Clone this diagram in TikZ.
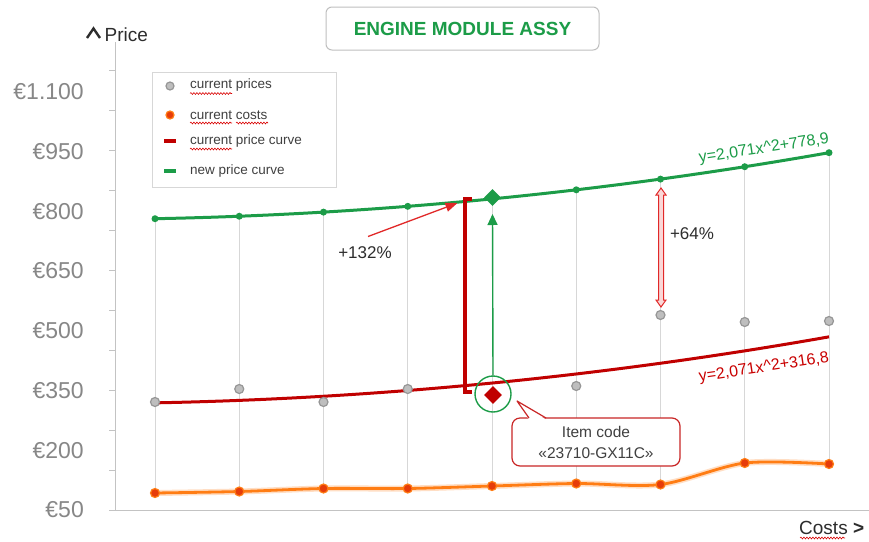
\documentclass[tikz,border=0pt]{standalone}
\usepackage{fontspec}
\setmainfont{Liberation Sans}
\usetikzlibrary{arrows.meta,decorations.pathmorphing,shapes.geometric}
\definecolor{cgreen}{RGB}{28,156,72}
\definecolor{cred}{RGB}{192,0,0}
\definecolor{carrowred}{RGB}{225,40,40}
\definecolor{corange}{RGB}{255,125,20}
\definecolor{ccostfill}{RGB}{230,60,10}
\definecolor{cgrid}{RGB}{215,215,215}
\definecolor{caxis}{RGB}{195,195,195}
\definecolor{clabel}{RGB}{135,135,135}
\definecolor{ctext}{RGB}{64,64,64}
\definecolor{cdark}{RGB}{45,45,45}
\definecolor{cpink}{RGB}{250,215,215}
\definecolor{cdotfill}{RGB}{190,190,190}
\definecolor{cdotline}{RGB}{150,150,150}
\newcommand{\fsz}[1]{\fontsize{#1}{#1}\selectfont}
\begin{document}
\begin{tikzpicture}[x=1pt,y=-1pt,
  ticklbl/.style={anchor=east,text=clabel,font=\fsz{23},inner sep=0},
  pricedot/.style={circle,fill=cdotfill,draw=cdotline,line width=1.2,minimum size=9,inner sep=0},
  costdot/.style={circle,fill=ccostfill,draw=corange,line width=1.2,minimum size=9,inner sep=0},
  newdot/.style={circle,fill=cgreen,minimum size=7,inner sep=0},
  hilo/.style={cgrid,line width=1},
  legtxt/.style={anchor=west,text=ctext,font=\fsz{13.5},inner sep=0},
  squiggle/.style={red!85!black,line width=0.6,decorate,decoration={snake,amplitude=0.9,segment length=3}},
  note/.style={text=cdark,font=\fsz{17},inner sep=0},
  eqlbl/.style={font=\fsz{16},inner sep=0,rotate=8.5}
]
\fill[white] (0,0) rectangle (869,541);
\useasboundingbox (0,0) rectangle (869,541);

% axes
\draw[caxis,line width=1] (115,42) -- (115,510) -- (869,510);
\foreach \yy in {70,110,...,510} \draw[caxis,line width=1] (109,\yy) -- (115,\yy);
\node[ticklbl] (l1100) at (84,91.6) {€1.100};
\node[ticklbl] (l950) at (84,151.6) {€950};
\node[ticklbl] (l800) at (84,211.1) {€800};
\node[ticklbl] (l650) at (84,270.9) {€650};
\node[ticklbl] (l500) at (84,330.7) {€500};
\node[ticklbl] (l350) at (84,390.5) {€350};
\node[ticklbl] (l200) at (84,450.2) {€200};
\node[ticklbl] (l50) at (84,510) {€50};

% axis titles
\draw[cdark,line width=2.4,line join=miter] (87,38) -- (93.5,28.5) -- (100,38);
\node[anchor=west,inner sep=0,text=cdark,font=\fsz{19}] (ptitle) at (104.5,35) {Price};
\node[anchor=west,inner sep=0,text=cdark,font=\fsz{19}] (ctitle) at (799,528) {Costs \textbf{>}};
\draw[squiggle] (800,538) -- (845,538);

% title
\node[draw=black!25,rounded corners=6,line width=1,fill=white,minimum width=273,minimum height=43,
  text=cgreen,font=\fsz{19}\bfseries] (title) at (462.5,28.5) {ENGINE MODULE ASSY};

% high-low lines
\foreach \i/\o in {1/493,2/491.5,3/488.5,4/488.5,5/486,6/483.5,7/484.5,8/463,9/464}{
  \pgfmathsetmacro{\xx}{155+(\i-1)*84.25}
  \pgfmathsetmacro{\gy}{510-(2.071*\i*\i+728.9)*0.3985}
  \draw[hilo] (\xx,\o) -- (\xx,\gy);
}

% cost curve
\draw[corange,line width=6,opacity=0.25] plot[smooth,tension=0.5] coordinates {(155,493) (239.25,491.5) (323.5,488.5) (407.75,488.5) (492,486) (576.25,483.5) (660.5,484.5) (744.75,463) (829,464)};
\draw[corange,line width=2.8] plot[smooth,tension=0.5] coordinates {(155,493) (239.25,491.5) (323.5,488.5) (407.75,488.5) (492,486) (576.25,483.5) (660.5,484.5) (744.75,463) (829,464)};

% price curves
\draw[cred,line width=3] plot[domain=1:9,samples=60] ({155+(\x-1)*84.25},{510-(2.071*\x*\x+266.8)*0.3985});
\draw[cgreen,line width=3] plot[domain=1:9,samples=60] ({155+(\x-1)*84.25},{510-(2.071*\x*\x+728.9)*0.3985});

% markers
\foreach \i/\o in {1/493,2/491.5,3/488.5,4/488.5,5/486,6/483.5,7/484.5,8/463,9/464}{
  \pgfmathsetmacro{\xx}{155+(\i-1)*84.25}
  \node[costdot] (c\i) at (\xx,\o) {};
}
\foreach \i/\p in {1/402,2/389,3/402,4/389,6/386,7/315,8/322,9/321}{
  \pgfmathsetmacro{\xx}{155+(\i-1)*84.25}
  \node[pricedot] (p\i) at (\xx,\p) {};
}
\foreach \i in {1,2,3,4,6,7,8,9}{
  \pgfmathsetmacro{\xx}{155+(\i-1)*84.25}
  \pgfmathsetmacro{\gy}{510-(2.071*\i*\i+728.9)*0.3985}
  \node[newdot] (g\i) at (\xx,\gy) {};
}
\node[diamond,fill=cgreen,minimum size=17,inner sep=0] (gd) at (492.5,197.5) {};

% item
\node[circle,draw=cgreen,line width=1.4,minimum size=36,inner sep=0] (circ) at (493,394) {};
\node[diamond,fill=cred,minimum size=18,inner sep=0] (item) at (493,395) {};
\coordinate (gtip) at (492.5,214);
\draw[cgreen,line width=1.4,-{Triangle[length=11,width=10]}] (circ.north) -- (gtip);

% bracket
\coordinate (bt1) at (471.5,199);
\coordinate (bt2) at (465,199);
\coordinate (bb2) at (465,392);
\coordinate (bb1) at (471.5,392);
\draw[cred,line width=3.3] (bt1) -- (bt2) -- (bb2) -- (bb1);

% +132% arrow
\node[note] (n132) at (365,253) {+132\%};
\coordinate (a132s) at (368,236.5);
\coordinate (a132t) at (457.5,203);
\draw[carrowred,line width=1.3,-{Triangle[length=12,width=9]}] (a132s) -- (a132t);

% +64% double arrow
\draw[carrowred,line width=1,fill=cpink,line join=miter]
  (661,188) -- (666,195) -- (663.5,195) -- (663.5,300) -- (666,300) -- (661,307)
  -- (656,300) -- (658.5,300) -- (658.5,195) -- (656,195) -- cycle;
\node[note] (n64) at (692,234) {+64\%};

% equations
\node[eqlbl,text=cgreen] (eqg) at (764,149) {y=2,071x\textasciicircum2+778,9};
\node[eqlbl,text=cred!85!red] (eqr) at (764,368) {y=2,071x\textasciicircum2+316,8};

% callout
\node[draw=cred!85!white,rounded corners=8,line width=1.2,fill=white,minimum width=168,minimum height=48,
  align=center,text=ctext,font=\fontsize{15.5}{21}\selectfont] (callout) at (596,442) {Item code\\«23710-GX11C»};
\coordinate (ctip) at (517,401);
\fill[white] (529,419.6) -- (ctip) -- (546,419.6) -- cycle;
\draw[cred!85!white,line width=1.2,line join=round] (529,418) -- (ctip) -- (546,418);

% legend
\node[draw=cgrid,fill=white,line width=1,minimum width=184,minimum height=115,inner sep=0] (legend) at (244,130) {};
\node[pricedot,minimum size=8] (lp) at (170,86) {};
\node[costdot,minimum size=8] (lc) at (170,115) {};
\draw[cred,line width=4] (164,141) -- (176,141);
\draw[cgreen,line width=4] (164,171) -- (176,171);
\node[legtxt] (t1) at (190,85.5) {current prices};
\node[legtxt] (t2) at (190,115) {current costs};
\node[legtxt] (t3) at (190,141) {current price curve};
\node[legtxt] (t4) at (190,171) {new price curve};
\draw[squiggle] (190,93.5) -- (232,93.5);
\draw[squiggle] (190,123) -- (232,123);
\draw[squiggle] (236,123) -- (268,123);
\draw[squiggle] (190,149) -- (232,149);
\end{tikzpicture}
\end{document}
